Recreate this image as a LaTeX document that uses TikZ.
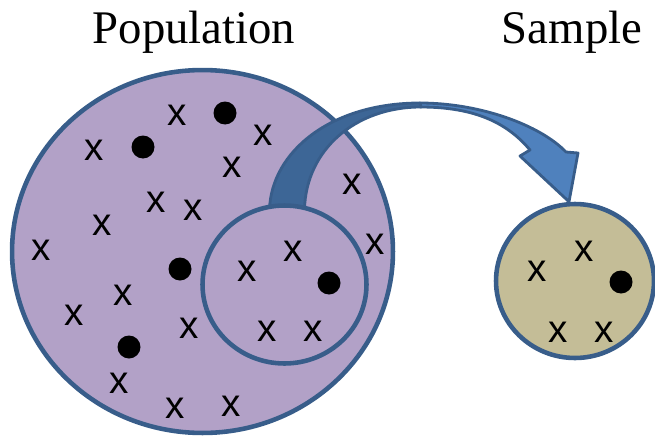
\documentclass[tikz,border=0pt]{standalone}
\usepackage{fontspec}
\setmainfont{Liberation Serif}
\newfontfamily\markfont{Liberation Sans}
\usetikzlibrary{shapes.geometric,calc}

\definecolor{popfill}{HTML}{B2A1C7}
\definecolor{smpfill}{HTML}{C4BD97}
\definecolor{rim}{HTML}{385D8A}
\definecolor{arrowlight}{HTML}{4F81BD}
\definecolor{arrowdark}{HTML}{3D6696}

\pgfdeclarelayer{bottom}
\pgfdeclarelayer{middle}
\pgfsetlayers{bottom,middle,main}

\tikzset{
    group/.style={draw=rim, line width=2.6pt, ellipse, inner sep=0pt},
    xmark/.style={font=\markfont\fontsize{22}{22}\selectfont, inner sep=0pt},
    dot/.style={circle, fill=black, inner sep=0pt, minimum size=0.46cm},
    title/.style={font=\rmfamily\fontsize{26.6}{30}\selectfont, anchor=base, inner sep=0pt},
    arrowbody/.style={draw=rim, line width=1.6pt, line join=round}
}

\begin{document}
\begin{tikzpicture}[x=0.02cm, y=-0.02cm]
        \useasboundingbox (0,0) rectangle (655,436);

        % Titles
        \node[title] (poptitle) at (194,43) {Population};
        \node[title] (smptitle) at (572,43) {Sample};

        % Population with its members
        \begin{pgfonlayer}{bottom}
        \node[group, fill=popfill, minimum width=7.62cm, minimum height=7.26cm] (population) at (202.5,251.5) {};
        \foreach \x/\y [count=\i] in {177/115, 94/150, 263/135, 232/167, 156/202, 193/210, 102/225, 352/184,
                                      41/250, 375/244, 123/295, 74/315, 189/328, 119/383, 175/408, 231/406}
            \node[xmark] (pm\i) at (\x,\y) {x};
        \foreach \x/\y [count=\i] in {225/113, 143/147, 180/269, 129/347}
            \node[dot] (pd\i) at (\x,\y) {};
        \end{pgfonlayer}

        % Drawn part and sample
        \node[group, fill=popfill, minimum width=3.28cm, minimum height=3.16cm] (drawn) at (284.5,284.5) {};
        \node[group, fill=smpfill, minimum width=3.16cm, minimum height=3.08cm] (sample) at (575,281) {};

        % Curved arrow from drawn part to sample
        \begin{pgfonlayer}{middle}
        \coordinate (tail) at ($(drawn.north)+(-15,6)$);
        \coordinate (tip) at ($(sample.north)+(-6,0)$);
        \draw[arrowbody, fill=arrowlight] (420,103) .. controls (480,103) and (540,125) .. (566,152) -- (578,153) -- (tip)
            -- (520,156) -- (530,150) .. controls (505,120) and (470,107) .. (420,107) -- cycle;
        \draw[arrowbody, fill=arrowdark] (tail) .. controls ($(tail)+(2,-57)$) and (330,103) .. (420,103) -- (421,107)
            .. controls (355,107) and (306,150) .. ($(tail)+(35,0)$) -- cycle;
        \end{pgfonlayer}

        % Members of the drawn part
        \foreach \x/\y [count=\i] in {293/251, 247/271, 267/331, 313/331}
            \node[xmark] (dm\i) at (\x,\y) {x};
        \node[dot] (dd1) at (329,283) {};

        % Members of the sample
        \foreach \x/\y [count=\i] in {584/251, 537/271, 558/332, 604/332}
            \node[xmark] (sm\i) at (\x,\y) {x};
        \node[dot] (sd1) at (621,282) {};
\end{tikzpicture}
\end{document}
